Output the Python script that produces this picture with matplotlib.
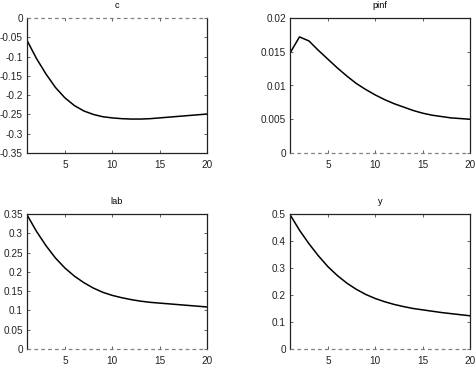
import matplotlib
matplotlib.use("Agg")
import matplotlib.pyplot as plt
import numpy as np

plt.rcParams['font.family'] = ['Liberation Sans', 'DejaVu Sans']
plt.rcParams['axes.unicode_minus'] = False

periods = list(range(1, 21))
c_vals = [-0.058, -0.105, -0.145, -0.180, -0.207, -0.227, -0.241, -0.250, -0.256, -0.259,
          -0.261, -0.262, -0.262, -0.261, -0.259, -0.257, -0.255, -0.253, -0.251, -0.249]
pinf_vals = [0.0148, 0.0172, 0.0166, 0.0152, 0.0139, 0.0126, 0.0114, 0.0103, 0.0094, 0.0086,
             0.0079, 0.0073, 0.0068, 0.0063, 0.0059, 0.0056, 0.0054, 0.0052, 0.0051, 0.0050]
lab_vals = [0.348, 0.305, 0.268, 0.236, 0.210, 0.189, 0.172, 0.158, 0.147, 0.139,
            0.133, 0.128, 0.124, 0.121, 0.119, 0.117, 0.115, 0.113, 0.111, 0.109]
y_vals = [0.498, 0.440, 0.390, 0.345, 0.305, 0.272, 0.244, 0.221, 0.202, 0.187,
          0.175, 0.165, 0.157, 0.150, 0.145, 0.140, 0.135, 0.131, 0.127, 0.123]

titles = ['c', 'pinf', 'lab', 'y']
series = [c_vals, pinf_vals, lab_vals, y_vals]
yticks = [
    [-0.35, -0.3, -0.25, -0.2, -0.15, -0.1, -0.05, 0],
    [0, 0.005, 0.01, 0.015, 0.02],
    [0, 0.05, 0.1, 0.15, 0.2, 0.25, 0.3, 0.35],
    [0, 0.1, 0.2, 0.3, 0.4, 0.5],
]
xticks = [5, 10, 15, 20]

W, H = 475, 365
fig = plt.figure(figsize=(W / 100, H / 100), dpi=100)
# axes rectangles in pixels: (left, top, right, bottom)
rects = [(27, 18, 207, 153), (290, 18, 470, 153), (27, 214, 207, 349), (290, 214, 470, 349)]

for rect, t, vals, yt in zip(rects, titles, series, yticks):
    l, tp, r, b = rect
    ax = fig.add_axes([l / W, 1 - b / H, (r - l) / W, (b - tp) / H])
    ax.plot(periods, vals, color='black', lw=1.1)
    ax.set_xlim(1, 20)
    ax.set_ylim(yt[0], yt[-1])
    ax.set_xticks(xticks)
    ax.set_yticks(yt)
    ax.set_yticklabels(['%g' % v for v in yt])
    ax.set_xticklabels(['%g' % v for v in xticks])
    ax.tick_params(axis='x', pad=5)
    ax.tick_params(axis='y', pad=3)
    ax.tick_params(direction='in', length=2.5, width=0.5, labelsize=7.2,
                   top=True, right=True, colors='#222222')
    for s in ax.spines.values():
        s.set_linewidth(0.9)
        s.set_color('#222222')
    # zero line coincides with a spine: hide that spine, draw dashed line instead
    if yt[-1] == 0:
        ax.spines['top'].set_visible(False)
    else:
        ax.spines['bottom'].set_visible(False)
    ax.plot([periods[0], periods[-1]], [0, 0], color='#808080', lw=0.9,
            ls=(0, (3, 2.5)), clip_on=False, zorder=5)
    ax.set_title(t, fontsize=6.6, pad=7)

fig.savefig('out.png', dpi=100)
